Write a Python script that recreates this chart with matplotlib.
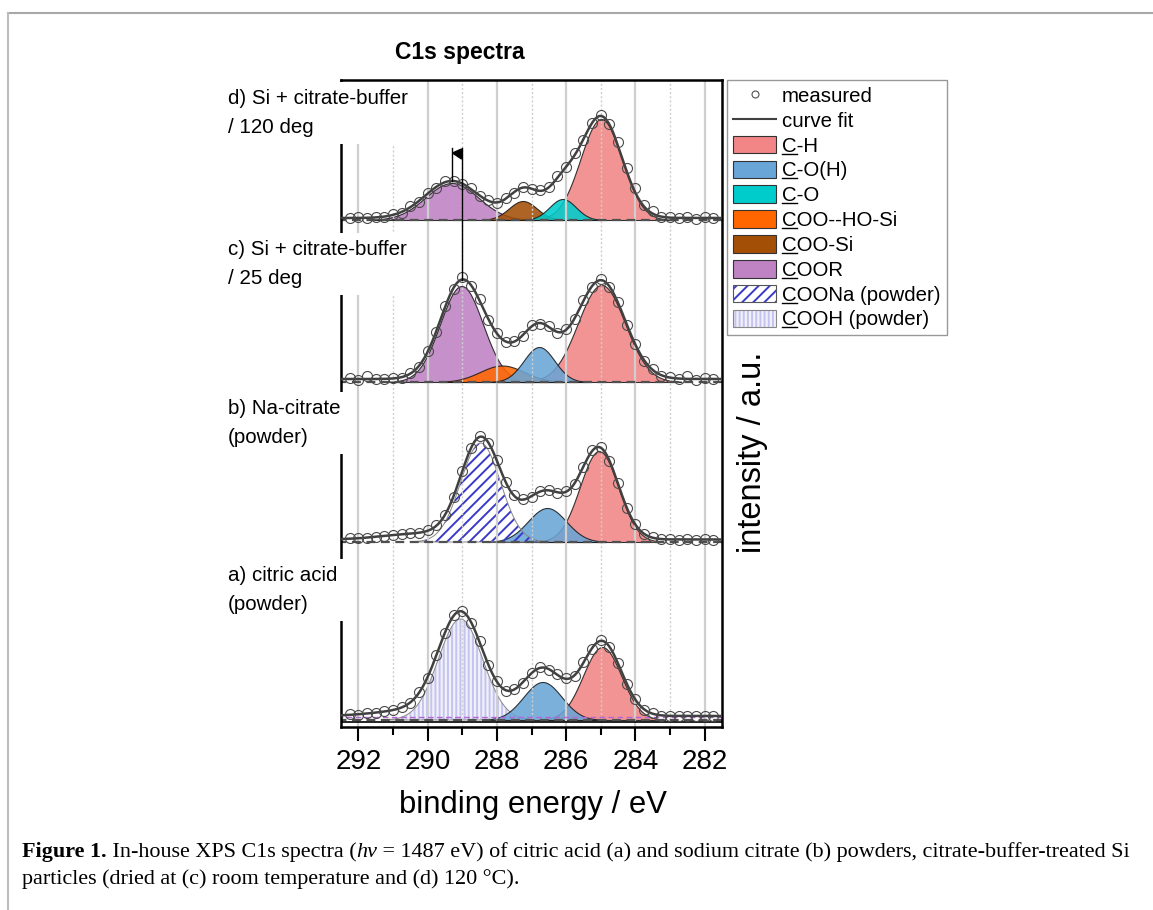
import numpy as np
import matplotlib
matplotlib.use("Agg")
import matplotlib.pyplot as plt
from matplotlib.patches import Patch, Polygon
from matplotlib.lines import Line2D

plt.rcParams['font.family'] = ['Liberation Sans', 'DejaVu Sans']
plt.rcParams['hatch.linewidth'] = 1.4

# ---------------- data ----------------
energy = [292.25, 292.0, 291.75, 291.5, 291.25, 291.0, 290.75, 290.5, 290.25, 290.0,
          289.75, 289.5, 289.25, 289.0, 288.75, 288.5, 288.25, 288.0, 287.75, 287.5,
          287.25, 287.0, 286.75, 286.5, 286.25, 286.0, 285.75, 285.5, 285.25, 285.0,
          284.75, 284.5, 284.25, 284.0, 283.75, 283.5, 283.25, 283.0, 282.75, 282.5,
          282.25, 282.0, 281.75]

meas_d = [2.5, 3.1, 1.8, 3.0, 3.0, 5.8, 7.5, 13.6, 18.4, 27.2, 32.5, 38.6, 39.5, 36.0,
          31.8, 23.9, 19.9, 17.0, 21.6, 27.2, 33.0, 30.8, 30.1, 32.6, 43.9, 53.5, 66.6,
          79.8, 97.3, 104.8, 96.4, 78.3, 52.2, 31.9, 15.5, 8.6, 3.4, 3.2, 1.6, 2.6, 1.5,
          2.7, 2.2]
meas_c = [4.2, 2.4, 6.5, 3.2, 2.6, 4.1, 4.4, 9.1, 15.2, 31.4, 49.6, 75.9, 93.2, 105.1,
          96.2, 82.7, 62.1, 49.3, 39.6, 41.2, 46.1, 56.8, 58.2, 56.1, 49.0, 53.1, 63.2,
          82.0, 95.1, 103.4, 94.8, 80.1, 56.9, 38.3, 20.9, 12.8, 6.1, 5.2, 2.7, 5.6, 2.4,
          3.8, 2.9]
meas_b = [3.6, 4.1, 4.2, 5.5, 6.3, 6.7, 8.1, 8.9, 9.0, 11.8, 16.6, 27.5, 45.2, 71.3,
          94.4, 106.1, 99.1, 82.0, 59.7, 46.9, 42.8, 45.3, 50.9, 52.2, 49.0, 50.8, 58.4,
          74.9, 91.6, 95.1, 80.7, 58.6, 33.8, 17.9, 7.7, 4.7, 2.6, 2.9, 2.2, 2.8, 2.3,
          2.6, 2.4]
meas_a = [5.6, 5.3, 6.9, 7.0, 8.9, 9.6, 13.0, 17.1, 27.6, 42.1, 65.2, 86.6, 104.9, 109.3,
          97.5, 78.8, 55.0, 39.1, 29.3, 31.0, 37.1, 47.3, 52.6, 50.2, 45.9, 41.8, 44.4,
          58.0, 71.2, 80.1, 72.6, 57.1, 35.7, 20.9, 10.2, 6.8, 4.3, 4.5, 3.7, 4.3, 3.8,
          4.2, 3.9]

# fitted components: name, centre (eV), height, FWHM (eV)
d_names = ['COOR', 'COO-Si', 'C-O', 'C-H']
d_centre = [289.3, 287.25, 286.1, 284.99]
d_height = [37, 19, 21, 101]
d_fwhm = [1.8, 0.95, 0.9, 1.4]
d_unassigned = [(286.8, 12, 1.8)]
d_bg = 2.0

c_names = ['COOR', 'COO--HO-Si', 'C-O(H)', 'C-H']
c_centre = [289.02, 287.85, 286.78, 284.98]
c_height = [96, 16.5, 35, 97]
c_fwhm = [1.45, 1.5, 1.05, 1.6]
c_unassigned = [(286.7, 14, 2.0)]
c_bg = 3.0

b_names = ['COONa', 'C-O(H)', 'C-H']
b_centre = [288.47, 286.55, 285.05]
b_height = [99, 34, 91]
b_fwhm = [1.35, 1.3, 1.3]
b_unassigned = [(287.0, 15, 1.8), (290.2, 6, 2.4)]
b_bg = 2.5

a_names = ['COOH', 'C-O(H)', 'C-H']
a_centre = [289.05, 286.68, 284.96]
a_height = [101, 38, 73]
a_fwhm = [1.5, 1.3, 1.3]
a_unassigned = [(286.9, 10, 2.5), (290.4, 6, 2.4)]
a_bg = 4.0

panel_labels = ['a) citric acid\n(powder)', 'b) Na-citrate\n(powder)',
                'c) Si + citrate-buffer\n/ 25 deg', 'd) Si + citrate-buffer\n/ 120 deg']

legend_names = ['C-H', 'C-O(H)', 'C-O', 'COO--HO-Si', 'COO-Si', 'COOR',
                'COONa (powder)', 'COOH (powder)']

# ---------------- style ----------------
colors = {'C-H': '#F28585', 'C-O(H)': '#69A5D6', 'C-O': '#00CCCC',
          'COO--HO-Si': '#FF6600', 'COO-Si': '#A34F05', 'COOR': '#BF82C3'}
draw_z = {'C-H': 1.0, 'COOR': 1.05, 'COO-Si': 1.1, 'COO--HO-Si': 1.1,
          'C-O': 1.15, 'C-O(H)': 1.15, 'COOH': 0.95, 'COONa': 1.3}
offsets = {'a': 7, 'b': 185, 'c': 345, 'd': 507}
label_y = {'a': 137, 'b': 304, 'c': 463, 'd': 614}

W, H = 1153, 910
fig = plt.figure(figsize=(W / 100, H / 100), dpi=100)
ax = fig.add_axes([341 / W, 1 - 727 / H, 381 / W, 647 / H])
ax.set_xlim(292.5, 281.5)
ax.set_ylim(0, 647)

xg = np.linspace(281.5, 292.5, 900)


def gauss(x, c, h, w):
    return h * np.exp(-4 * np.log(2) * ((x - c) / w) ** 2)


def draw_panel(off, names, centres, heights, fwhms, extra, bg, meas):
    total = np.full_like(xg, bg)
    for n, c, h, w in zip(names, centres, heights, fwhms):
        y = gauss(xg, c, h, w)
        total += y
        m = y > 0.3
        z = draw_z[n]
        if n == 'COONa':
            ax.fill_between(xg, off, off + y, where=m, facecolor='none',
                            edgecolor='#3a3ac8', hatch='///', lw=0, zorder=z)
            ax.fill_between(xg, off, off + y, where=m, facecolor='none',
                            edgecolor='#888888', lw=0.7, zorder=z + 0.01)
        elif n == 'COOH':
            ax.fill_between(xg, off, off + y, where=m, facecolor='#F1F1FB',
                            edgecolor='#C4C4EE', hatch='||||', lw=0, zorder=z)
            ax.fill_between(xg, off, off + y, where=m, facecolor='none',
                            edgecolor='#888888', lw=0.7, zorder=z + 0.01)
        else:
            ax.fill_between(xg, off, off + y, where=m, facecolor=colors[n],
                            edgecolor='#1a1a1a', lw=0.8, alpha=0.88, zorder=z)
    for c, h, w in extra:
        total += gauss(xg, c, h, w)
    ax.plot([281.5, 292.5], [off, off], ls=(0, (4, 2.5)), color='#505050', lw=1.6, zorder=2)
    ax.plot(xg, off + total, color='#404040', lw=1.8, zorder=3)
    ax.plot(energy, off + np.asarray(meas), ls='none', marker='o', mfc='none',
            mec='#4a4a4a', ms=7.2, mew=0.8, zorder=4)
    return total


tot_a = draw_panel(offsets['a'], a_names, a_centre, a_height, a_fwhm, a_unassigned, a_bg, meas_a)
tot_b = draw_panel(offsets['b'], b_names, b_centre, b_height, b_fwhm, b_unassigned, b_bg, meas_b)
tot_c = draw_panel(offsets['c'], c_names, c_centre, c_height, c_fwhm, c_unassigned, c_bg, meas_c)
tot_d = draw_panel(offsets['d'], d_names, d_centre, d_height, d_fwhm, d_unassigned, d_bg, meas_d)

# extra thin lines at the bottom of the lowest layer
ax.plot([281.5, 292.5], [offsets['a'] + 3, offsets['a'] + 3], ls=(0, (4, 2.5)),
        color='#B466D6', lw=1.0, zorder=2)
ax.axhline(5, color='black', lw=1.2, zorder=2.5)

# peak-shift marker between c) and d)
x_c = c_centre[0]
x_d = d_centre[0]
y_c = offsets['c'] + np.interp(x_c, xg, tot_c)
y_d = offsets['d'] + np.interp(x_d, xg, tot_d)
y_top = offsets['d'] + 72
ax.plot([x_c, x_c], [y_c, y_top], color='black', lw=1.0, zorder=5)
ax.plot([x_d, x_d], [y_d, y_top], color='black', lw=1.0, zorder=5)
ax.add_patch(Polygon([[x_d - 0.02, y_top - 5], [x_c, y_top - 1], [x_c, y_top - 11]],
                     closed=True, facecolor='black', edgecolor='black', zorder=5))

# grid / ticks
ax.set_xticks([292, 290, 288, 286, 284, 282])
ax.set_xticks([291, 289, 287, 285, 283], minor=True)
ax.set_axisbelow('line')
ax.grid(which='major', axis='x', color='#CFCFCF', lw=1.6)
ax.grid(which='minor', axis='x', color='#CFCFCF', lw=1.0, ls=(0, (1.5, 1.5)))
ax.set_yticks([])
ax.tick_params(axis='x', which='major', direction='out', length=10, width=1.5,
               labelsize=20, pad=6)
ax.tick_params(axis='x', which='minor', direction='out', length=6, width=1.5)
for s in ax.spines.values():
    s.set_linewidth(1.8)

ax.set_xlabel('binding energy / eV', fontsize=22.3)
ax.xaxis.set_label_coords(0.504, -0.1206)
ax.xaxis.label.set_va('center')
ax.set_ylabel('intensity / a.u.', fontsize=23.5)
ax.yaxis.set_label_position('right')
ax.yaxis.set_label_coords(1.079, 0.425)
ax.yaxis.label.set_va('center')

# panel labels with white boxes
for key, txt in zip(['a', 'b', 'c', 'd'], panel_labels):
    ax.text((228 - 341) / 381, label_y[key], txt, transform=ax.get_yaxis_transform(),
            ha='left', va='center', fontsize=14.8, linespacing=1.7, zorder=6,
            bbox=dict(boxstyle='square,pad=0.35', facecolor='white', edgecolor='none'))

fig.text(460 / W, 1 - 53 / H, 'C1s spectra', fontsize=16.5, fontweight='bold',
         ha='center', va='center')

# legend
h_meas = Line2D([], [], ls='none', marker='o', mfc='none', mec='#505050', ms=5, mew=0.8)
h_fit = Line2D([], [], color='#404040', lw=1.5)
handles = [h_meas, h_fit]
for n in legend_names[:6]:
    handles.append(Patch(facecolor=colors[n], edgecolor='#333333', lw=0.8))
handles.append((Patch(facecolor='white', edgecolor='#3a3ac8', hatch='///', lw=0),
                Patch(facecolor='none', edgecolor='#555555', lw=0.8)))
handles.append((Patch(facecolor='#F1F1FB', edgecolor='#C4C4EE', hatch='||||', lw=0),
                Patch(facecolor='none', edgecolor='#888888', lw=0.8)))
labels = ['measured', 'curve fit'] + legend_names
leg = ax.legend(handles, labels, loc='upper left', bbox_to_anchor=(1.013, 1.0),
                borderaxespad=0, frameon=True, fancybox=False, edgecolor='#808080',
                fontsize=14.7, handlelength=2.1, handleheight=0.95, labelspacing=0.245,
                handletextpad=0.3, borderpad=0.3)
leg.get_frame().set_linewidth(1.0)

fig.canvas.draw()
renderer = fig.canvas.get_renderer()

# underline the first "C" of the component labels in the legend
for t in leg.get_texts()[2:]:
    bb = t.get_window_extent(renderer)
    prop = t.get_fontproperties()
    wC, _, _ = renderer.get_text_width_height_descent('C', prop, ismath=False)
    _, _, lpd = renderer.get_text_width_height_descent('lp', prop, ismath=False)
    yb = bb.y0 + lpd - 2
    fig.add_artist(Line2D([bb.x0 / W, (bb.x0 + wC) / W], [yb / H, yb / H],
                          color='black', lw=1.0))

# caption
serif = ['Liberation Serif', 'DejaVu Serif']
cap_size = 15.92


def runs(x_px, y_frac, parts):
    x = x_px
    for txt, style in parts:
        kw = dict(fontsize=cap_size, family=serif, va='baseline', ha='left')
        if style == 'b':
            kw['fontweight'] = 'bold'
        if style == 'i':
            kw['fontstyle'] = 'italic'
        t = fig.text(x / W, y_frac, txt, **kw)
        w, _, _ = renderer.get_text_width_height_descent(txt.replace(' ', '\u00a0'),
                                                          t.get_fontproperties(), ismath=False)
        x += w


runs(22, 1 - 857 / H, [('Figure 1.', 'b'), (' In-house XPS C1s spectra (', 'r'), ('hν', 'i'),
                       (' = 1487 eV) of citric acid (a) and sodium citrate (b) powders, '
                        'citrate-buffer-treated Si', 'r')])
runs(22, 1 - 884 / H, [('particles (dried at (c) room temperature and (d) 120 °C).', 'r')])

# page frame
fig.add_artist(Line2D([8 / W, 1.0], [1 - 13 / H, 1 - 13 / H], color='#A8A8A8', lw=1.5))
fig.add_artist(Line2D([8 / W, 8 / W], [0, 1 - 13 / H], color='#BDBDBD', lw=1.5))

fig.savefig('out.png', dpi=100)
